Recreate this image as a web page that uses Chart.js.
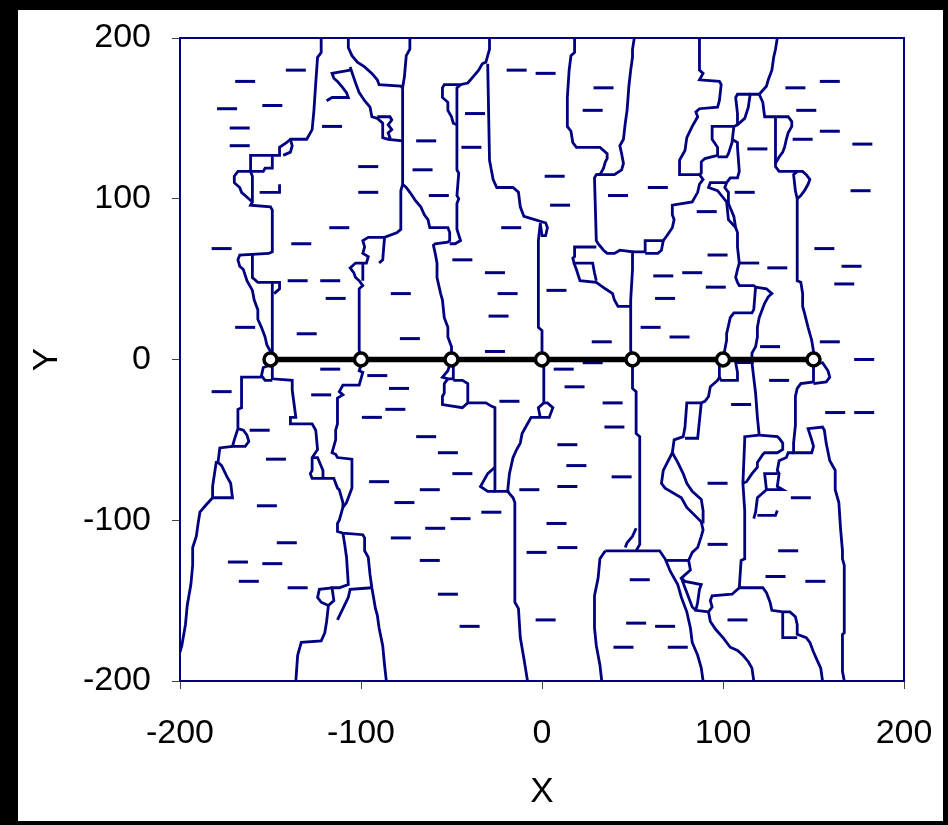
<!DOCTYPE html>
<html>
<head>
<meta charset="utf-8">
<script src="https://cdn.jsdelivr.net/npm/chart.js@4.4.1/dist/chart.umd.min.js"></script>
<style>
    html, body { margin: 0; padding: 0; background: #000; }
    #frame { position: absolute; left: 18px; top: 10px; width: 925px; height: 811px; background: #fff; }
</style>
</head>
<body>
<div id="frame"><canvas id="mapChart" width="925" height="811"></canvas></div>
<script>
// axis ticks
const axisTicks = [-200, -100, 0, 100, 200];

// profile line along y = 0
const profileX = [-150, -100, -50, 0, 50, 100, 150];
const profileY = [0, 0, 0, 0, 0, 0, 0];

// boundary traces, [x, y] pairs
const edge01 = [[-122,200],[-122,191],[-124,188],[-125,172],[-126,155],[-127,143],[-128,141],[-130,137],[-139,137],[-141,135],[-145,132],[-145,127],[-161,127],[-161,117],[-168,117],[-170,114],[-170,110],[-167,107],[-166,104],[-162,100],[-160,98],[-161,96],[-150,95],[-149,93],[-149,67],[-151,66],[-167,65],[-168,62],[-167,58],[-165,56],[-163,49],[-160,43],[-159,37],[-157,31],[-157,25],[-155,20],[-153,14],[-152,9],[-150,5],[-150,0]];
const edge02 = [[-139,137],[-138,133],[-139,129],[-143,127]];
const edge03 = [[-161,117],[-154,117],[-153,119],[-149,119],[-149,127]];
const edge04 = [[-161,117],[-160,114],[-160,104],[-160,101],[-160,98]];
const edge05 = [[-156,104],[-145,104],[-145,109]];
const edge06 = [[-160,65],[-160,62],[-160,51],[-157,48],[-149,48],[-149,0]];
const edge07 = [[-149,48],[-145,48],[-145,44],[-148,41]];
const edge08 = [[-107,200],[-107,194],[-105,189],[-102,185],[-98,182],[-94,178],[-91,174],[-90,171],[-78,170],[-77,169]];
const edge09 = [[-73,200],[-73,193],[-75,189],[-76,176],[-77,169],[-77,109],[-78,105],[-78,81],[-80,79],[-87,76],[-96,76],[-99,74],[-98,70],[-99,66],[-96,64],[-97,60],[-103,60],[-106,57],[-104,54],[-103,51],[-101,49],[-99,46],[-101,44],[-101,6],[-100,0]];
const edge10 = [[-87,76],[-88,62],[-90,60]];
const edge11 = [[-99,60],[-99,49]];
const edge12 = [[-106,182],[-103,172],[-101,166],[-98,161],[-95,157],[-94,151],[-91,150],[-88,147],[-88,144],[-88,138],[-85,137],[-77,136]];
const edge13 = [[-106,180],[-116,178],[-115,175],[-113,173],[-110,169],[-108,166],[-107,163],[-116,163],[-119,161]];
const edge14 = [[-91,151],[-84,151],[-83,149],[-85,146],[-83,143],[-85,141],[-84,138],[-85,137]];
const edge15 = [[-77,109],[-75,107],[-73,104],[-70,99],[-67,95],[-65,90],[-63,87],[-62,82],[-52,82],[-51,79],[-51,74],[-52,73],[-59,72],[-60,71],[-59,66],[-58,60],[-58,51],[-56,41],[-55,37],[-54,26],[-52,20],[-52,14],[-50,8],[-50,0]];
const edge16 = [[-29,200],[-29,193],[-30,189],[-31,185],[-33,184],[-35,180],[-38,176],[-41,172],[-45,171],[-54,171],[-55,169],[-55,163],[-52,160],[-52,155],[-50,151],[-49,147],[-47,146]];
const edge17 = [[-45,171],[-47,169],[-47,118],[-46,116],[-47,102],[-46,100],[-47,97],[-47,81],[-45,74],[-48,72],[-51,72]];
const edge18 = [[-30,184],[-29,124],[-27,112],[-25,107],[-16,107],[-13,104],[-12,95],[-10,89],[-4,87],[-1,86],[2,85],[3,82],[2,77],[0,77],[-1,85]];
const edge19 = [[-1,84],[-2,74],[-2,49],[-2,20],[0,18],[0,0]];
const edge20 = [[18,200],[18,191],[16,189],[15,180],[14,163],[14,145],[16,142],[17,135],[19,132],[32,132],[36,128],[36,125],[35,123],[34,119],[32,115],[30,115],[29,113],[30,74],[31,72],[34,68],[36,66],[40,66],[43,68],[50,67],[50,56],[49,37],[49,6],[50,0]];
const edge21 = [[51,200],[50,193],[50,188],[49,180],[48,170],[47,155],[46,147],[45,137],[43,133],[44,128],[45,122],[44,118],[40,115],[30,115]];
const edge22 = [[30,70],[18,70],[18,64],[17,63],[18,59],[19,56],[21,49],[30,48],[35,44],[39,41],[40,37],[42,33],[49,33]];
const edge23 = [[17,60],[28,60],[29,54],[30,49]];
const edge24 = [[87,200],[87,180],[89,178],[87,174],[98,173],[99,171],[98,161],[97,157],[87,156],[85,154],[86,151],[85,149],[83,145],[80,138],[79,130],[76,124],[76,115],[87,115],[89,112],[87,109],[86,104],[83,98],[72,96],[72,92],[72,90],[73,87],[72,82],[69,77],[67,74],[57,74],[57,67],[50,67]];
const edge25 = [[67,74],[66,68],[64,66],[57,66]];
const edge26 = [[106,145],[94,145],[94,137],[97,132],[97,127],[90,125],[88,123],[88,116],[87,115]];
const edge27 = [[130,200],[129,193],[128,188],[127,180],[125,174],[124,170],[120,165],[115,165],[114,157],[112,150],[108,146],[106,145]];
const edge28 = [[115,165],[108,165],[107,163],[108,153],[108,147],[108,146]];
const edge29 = [[120,165],[122,160],[123,151],[136,151],[138,148],[138,145],[136,141],[135,137],[134,132],[133,129],[131,126],[129,122]];
const edge30 = [[129,151],[129,120],[131,117],[144,117],[146,115],[148,112],[147,109],[145,105],[143,102],[141,100]];
const edge31 = [[141,100],[140,105],[139,115],[141,117]];
const edge32 = [[141,100],[141,49],[143,48],[144,41],[144,33],[145,29],[147,20],[149,12],[150,5],[150,0]];
const edge33 = [[106,145],[105,135],[103,128],[102,126],[97,126]];
const edge34 = [[105,137],[108,135],[108,132],[109,117],[108,113],[104,113],[102,110],[101,107],[103,104],[103,97],[106,89],[107,82],[108,79],[108,70],[109,60],[108,56],[107,51],[108,48],[109,46],[117,46],[118,45],[117,31],[116,29],[106,29],[104,26],[103,21],[102,16],[102,12],[101,6],[100,0]];
const edge35 = [[102,110],[93,110],[92,107],[97,105],[102,98],[103,87],[107,82]];
const edge36 = [[109,60],[120,60]];
const edge37 = [[118,45],[124,44],[127,41],[125,39],[123,35],[122,32],[120,26],[119,20],[119,14],[118,8],[116,4],[116,-2],[118,-21],[119,-36],[120,-47]];
const edge38 = [[100,0],[98,-3],[98,-11],[97,-13],[96,-14],[93,-17],[92,-23],[90,-26],[88,-27],[80,-27],[79,-42],[78,-48],[73,-50],[72,-58],[67,-69],[66,-77],[68,-80],[77,-86],[80,-92],[88,-101],[89,-106],[88,-110],[86,-117],[83,-120],[81,-125],[82,-131],[77,-136],[79,-138],[88,-140],[87,-143],[86,-151],[85,-156],[92,-157]];
const edge39 = [[88,-27],[87,-38],[86,-49],[79,-49]];
const edge40 = [[72,-58],[75,-64],[78,-71],[80,-77],[83,-82],[88,-87],[89,-94],[89,-102]];
const edge41 = [[98,-11],[99,-13],[108,-13],[108,-8],[107,-2],[117,-2]];
const edge42 = [[120,-47],[112,-48],[112,-50],[111,-77],[112,-94],[112,-119],[112,-124],[110,-125],[109,-142],[107,-144],[105,-146],[94,-147],[93,-150],[94,-154],[92,-157]];
const edge43 = [[120,-47],[130,-48],[131,-49],[133,-52],[133,-56],[130,-58],[123,-58],[122,-59],[119,-64],[119,-67],[116,-71],[113,-76],[111,-77]];
const edge44 = [[139,-58],[136,-58],[135,-61],[131,-63],[130,-69],[131,-71],[130,-79],[133,-81],[124,-81],[123,-71],[130,-71]];
const edge45 = [[124,-81],[119,-86],[118,-95],[117,-99]];
const edge46 = [[119,-97],[129,-97],[130,-94]];
const edge47 = [[150,0],[150,-3],[150,-14],[143,-15],[141,-18],[140,-23],[140,-41],[139,-52],[139,-58],[149,-58],[150,-54],[149,-50],[147,-43],[155,-42],[156,-44],[157,-52],[159,-63],[162,-69],[162,-81],[164,-89],[165,-106],[166,-119],[166,-124],[167,-128],[167,-170],[166,-171],[166,-194],[167,-200]];
const edge48 = [[150,-3],[155,-2],[158,-7],[159,-11],[157,-14],[150,-15]];
const edge49 = [[109,-142],[122,-142],[124,-145],[126,-151],[127,-156],[133,-157],[137,-157],[140,-160],[141,-165],[141,-171],[146,-173],[148,-176],[150,-182],[152,-187],[154,-192],[155,-200]];
const edge50 = [[133,-157],[133,-173],[141,-173]];
const edge51 = [[92,-157],[93,-163],[96,-168],[100,-173],[104,-179],[108,-181],[111,-184],[114,-188],[116,-192],[117,-200]];
const edge52 = [[77,-136],[80,-145],[83,-154],[85,-156]];
const edge53 = [[35,-119],[65,-119],[68,-124],[71,-132],[75,-140],[77,-148],[80,-157],[82,-167],[83,-176],[86,-184],[88,-192],[89,-200]];
const edge54 = [[69,-125],[81,-125]];
const edge55 = [[50,0],[50,-18],[52,-20],[52,-46],[54,-48],[54,-115],[52,-119]];
const edge56 = [[52,-105],[50,-110],[47,-114],[46,-117]];
const edge57 = [[35,-119],[32,-124],[31,-136],[29,-147],[29,-167],[30,-178],[32,-190],[33,-200]];
const edge58 = [[1,0],[1,-27],[3,-27],[6,-30],[4,-36],[-1,-36],[-6,-36],[-8,-40],[-11,-46],[-12,-52],[-14,-56],[-16,-61],[-17,-66],[-18,-71],[-19,-82],[-16,-86],[-15,-89],[-15,-119],[-15,-151],[-13,-155],[-12,-173],[-10,-186],[-8,-200]];
const edge59 = [[-1,-36],[-2,-30],[1,-27]];
const edge60 = [[-50,0],[-52,-7],[-55,-11],[-52,-12],[-49,-12],[-49,-2]];
const edge61 = [[-52,-12],[-54,-15],[-54,-21],[-55,-23],[-55,-28],[-44,-30],[-41,-27],[-41,-15],[-44,-13],[-49,-13]];
const edge62 = [[-41,-27],[-31,-27],[-28,-29],[-26,-30],[-26,-82],[-18,-82]];
const edge63 = [[-26,-67],[-30,-71],[-34,-79],[-30,-82],[-26,-82]];
const edge64 = [[-99,0],[-101,-7],[-99,-8],[-101,-16],[-110,-16],[-112,-20],[-110,-22],[-113,-24],[-113,-40],[-114,-44],[-114,-50],[-116,-58],[-114,-59],[-113,-61],[-105,-62],[-105,-80],[-108,-89],[-110,-92],[-112,-100],[-113,-102],[-113,-107],[-110,-108],[-99,-109],[-98,-111],[-98,-119],[-96,-123],[-95,-134],[-94,-142],[-92,-155],[-91,-159],[-90,-167],[-88,-178],[-87,-190],[-86,-200]];
const edge65 = [[-94,-142],[-106,-143],[-107,-148],[-110,-155],[-113,-162]];
const edge66 = [[-149,0],[-149,-12],[-138,-13],[-138,-19],[-136,-36],[-139,-36],[-139,-40],[-127,-40],[-125,-44],[-124,-56],[-127,-61],[-127,-69],[-128,-71],[-127,-74],[-115,-74],[-113,-80],[-112,-81],[-110,-89],[-110,-92]];
const edge67 = [[-149,-3],[-154,-5],[-155,-10],[-153,-13],[-149,-13]];
const edge68 = [[-155,-11],[-166,-11],[-166,-30],[-168,-31],[-168,-43],[-165,-44],[-163,-47],[-162,-51],[-164,-54],[-171,-54],[-170,-50],[-168,-43]];
const edge69 = [[-171,-54],[-178,-55],[-179,-64],[-177,-66],[-174,-73],[-172,-77],[-171,-86],[-182,-86],[-182,-79],[-180,-64],[-179,-64]];
const edge70 = [[-182,-86],[-186,-91],[-189,-95],[-190,-102],[-191,-110],[-193,-117],[-193,-128],[-194,-140],[-196,-153],[-197,-165],[-199,-178],[-200,-182]];
const edge71 = [[-127,-61],[-124,-61],[-121,-69],[-121,-74]];
const edge72 = [[-110,-108],[-109,-115],[-108,-123],[-107,-140],[-112,-142],[-116,-142],[-115,-150],[-118,-153],[-119,-163],[-120,-170],[-122,-175],[-133,-176],[-135,-184],[-136,-200]];
const edge73 = [[-116,-142],[-123,-143],[-124,-148],[-122,-151],[-118,-153]];

const edges = [edge01, edge02, edge03, edge04, edge05, edge06, edge07, edge08, edge09, edge10,
    edge11, edge12, edge13, edge14, edge15, edge16, edge17, edge18, edge19, edge20,
    edge21, edge22, edge23, edge24, edge25, edge26, edge27, edge28, edge29, edge30,
    edge31, edge32, edge33, edge34, edge35, edge36, edge37, edge38, edge39, edge40,
    edge41, edge42, edge43, edge44, edge45, edge46, edge47, edge48, edge49, edge50,
    edge51, edge52, edge53, edge54, edge55, edge56, edge57, edge58, edge59, edge60,
    edge61, edge62, edge63, edge64, edge65, edge66, edge67, edge68, edge69, edge70,
    edge71, edge72, edge73];

// short dash marks, [x, y] of each centre
const dashes = [
    [-136,180],[-164,173],[-174,156],[-149,158],[-167,144],[-167,133],[-177,69],[-133,72],
    [-14,180],[2,178],[34,169],[28,155],[-37,153],[-39,132],[-64,136],[-66,118],[7,114],
    [-57,102],[10,96],[-17,82],[-96,120],[-96,104],[-112,82],[-116,145],[-44,62],[-26,54],
    [140,169],[159,173],[146,155],[159,142],[177,134],[144,137],[119,131],[64,107],[112,104],
    [176,105],[91,92],[156,69],[171,58],[97,65],[130,57],[67,52],[83,54],[42,102],
    [-135,49],[-164,20],[-130,16],[-177,-20],[-156,-44],[-147,-62],[-152,-91],[-141,-114],[-122,-22],
    [-117,49],[-114,38],[-78,41],[-73,13],[-19,41],[-24,27],[-26,5],[8,43],[33,11],
    [-117,-6],[-91,-10],[-79,-18],[-81,-31],[-94,-36],[-64,-48],[-52,-58],[-44,-71],[-90,-76],
    [-62,-81],[-76,-89],[-45,-99],[-59,-105],[-78,-111],[-28,-95],[-18,-26],[12,-6],[28,-2],
    [18,-17],[39,-27],[40,-42],[14,-53],[19,-66],[44,-73],[-7,-81],[14,-79],[8,-102],[14,-117],
    [96,45],[68,38],[60,20],[76,14],[167,47],[126,8],[159,11],[178,0],[131,-13],[110,-28],
    [162,-33],[178,-33],[97,-77],[143,-86],[97,-115],
    [-168,-126],[-149,-127],[-162,-138],[-135,-142],[-62,-125],[-52,-146],[-40,-166],[-3,-120],[2,-162],
    [54,-137],[52,-164],[68,-166],[45,-179],[75,-179],[136,-119],[129,-135],[151,-138],[108,-162]
];

const NAVY = '#000080';
const toPoints = (pairs) => pairs.map(p => ({ x: p[0], y: p[1] }));

// plot frame drawn round the chart area
const plotFrame = {
    id: 'plotFrame',
    afterDatasetsDraw(chart) {
        const { ctx, chartArea } = chart;
        ctx.save();
        ctx.strokeStyle = NAVY;
        ctx.lineWidth = 2;
        ctx.strokeRect(chartArea.left, chartArea.top, chartArea.right - chartArea.left, chartArea.bottom - chartArea.top);
        ctx.restore();
    }
};

const datasets = [];
datasets.push({
    data: profileX.map((x, i) => ({ x: x, y: profileY[i] })),
    showLine: true,
    borderColor: '#000',
    borderWidth: 5.5,
    pointRadius: 6.5,
    pointBackgroundColor: '#fff',
    pointBorderColor: '#000',
    pointBorderWidth: 3.5
});
datasets.push({
    data: toPoints(dashes),
    showLine: false,
    pointStyle: 'line',
    pointRadius: 10,
    pointBorderColor: NAVY,
    pointBorderWidth: 3
});
edges.forEach(e => {
    datasets.push({
        data: toPoints(e),
        showLine: true,
        borderColor: NAVY,
        borderWidth: 2.8,
        pointRadius: 0,
        tension: 0
    });
});

const tickFont = { family: 'Liberation Sans, Arial, sans-serif', size: 34 };
const titleFont = { family: 'Liberation Sans, Arial, sans-serif', size: 35 };

new Chart(document.getElementById('mapChart').getContext('2d'), {
    type: 'scatter',
    data: { datasets: datasets },
    options: {
        responsive: false,
        animation: false,
        events: [],
        layout: { padding: { left: 0, top: 28, right: 39, bottom: 0 } },
        plugins: { legend: { display: false }, tooltip: { enabled: false } },
        scales: {
            x: {
                type: 'linear',
                min: axisTicks[0],
                max: axisTicks[axisTicks.length - 1],
                afterBuildTicks: (scale) => { scale.ticks = axisTicks.map(v => ({ value: v })); },
                afterFit: (scale) => {
                    scale.height = 140;
                    scale.paddingLeft = 0;
                    scale.paddingRight = 0;
                },
                ticks: { font: tickFont, color: '#000', padding: 24, maxRotation: 0 },
                grid: { drawOnChartArea: false, tickLength: 8, color: '#444' },
                border: { display: false },
                title: { display: true, text: 'X', font: titleFont, color: '#000', padding: { top: 0, bottom: 8 } }
            },
            y: {
                type: 'linear',
                min: axisTicks[0],
                max: axisTicks[axisTicks.length - 1],
                afterBuildTicks: (scale) => { scale.ticks = axisTicks.map(v => ({ value: v })); },
                afterFit: (scale) => {
                    scale.width = 162;
                    scale.paddingTop = 0;
                    scale.paddingBottom = 0;
                },
                ticks: { font: tickFont, color: '#000', padding: 21 },
                grid: { drawOnChartArea: false, tickLength: 8, color: '#444' },
                border: { display: false },
                title: { display: true, text: 'Y', font: titleFont, color: '#000', padding: { top: 8, bottom: 0 } }
            }
        }
    },
    plugins: [plotFrame]
});
</script>
</body>
</html>
